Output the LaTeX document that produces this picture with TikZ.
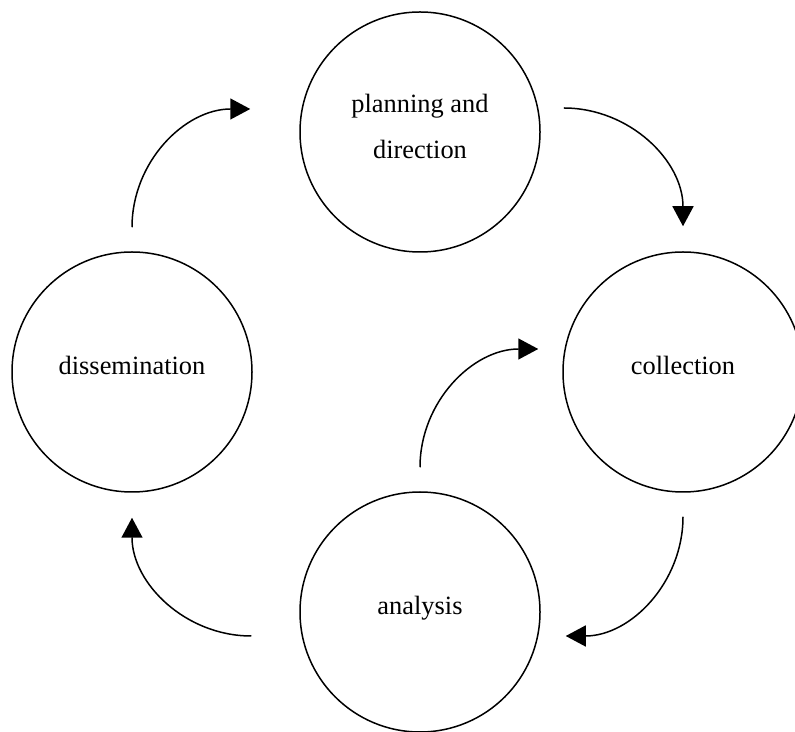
\documentclass[tikz,border=0pt]{standalone}
\usepackage{fontspec}
\setmainfont{Liberation Serif}
\usetikzlibrary{arrows.meta}
\begin{document}
\begin{tikzpicture}[x=1pt,y=1pt,
  stage/.style={circle, draw=black, line width=1.5pt, minimum size=240pt, inner sep=0pt},
  lbl/.style={anchor=base, inner sep=0pt, font=\fontsize{26.4}{30}\selectfont},
  flow/.style={line width=1.5pt, -{Triangle[length=20pt,width=21pt]}}]
\useasboundingbox (0,0) rectangle (795,731);
% circles
\node[stage] (plan) at (420,599) {};
\node[stage] (coll) at (683,359) {};
\node[stage] (diss) at (132,359) {};
\node[stage] (anal) at (420,119) {};
% texts
\node[lbl] (planA) at ([yshift=19pt]plan.center) {planning and};
\node[lbl] (planB) at ([yshift=-27pt]plan.center) {direction};
\node[lbl] (collT) at ([yshift=-3pt]coll.center) {collection};
\node[lbl] (dissT) at ([yshift=-3pt]diss.center) {dissemination};
\node[lbl] (analT) at ([yshift=-3pt]anal.center) {analysis};
% arrow end points
\coordinate (a1s) at ([yshift=24pt]diss.north);
\coordinate (a1e) at ([xshift=-49pt,yshift=23pt]plan.west);
\coordinate (a2s) at ([xshift=23pt,yshift=24pt]plan.east);
\coordinate (a2e) at ([yshift=25pt]coll.north);
\coordinate (a3s) at ([yshift=-24pt]coll.south);
\coordinate (a3e) at ([xshift=25pt,yshift=-24pt]anal.east);
\coordinate (a4s) at ([xshift=-48pt,yshift=-24pt]anal.west);
\coordinate (a4e) at ([yshift=-25pt]diss.south);
\coordinate (a5s) at ([yshift=24pt]anal.north);
\coordinate (a5e) at ([xshift=-24pt,yshift=23pt]coll.west);
% arrows
\draw[flow] (a1s) to[out=90,in=180] (a1e);
\draw[flow] (a2s) to[out=0,in=90] (a2e);
\draw[flow] (a3s) to[out=270,in=0] (a3e);
\draw[flow] (a4s) to[out=180,in=270] (a4e);
\draw[flow] (a5s) to[out=90,in=180] (a5e);
\end{tikzpicture}
\end{document}
